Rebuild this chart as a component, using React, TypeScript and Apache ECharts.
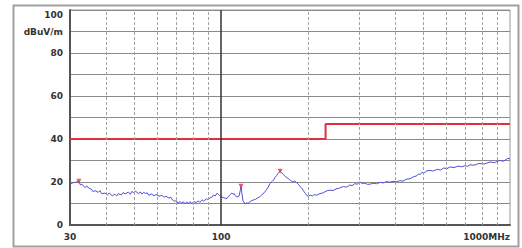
import React, { useEffect, useRef } from "react";
import * as echarts from "echarts";

// Measured emission trace: [frequency MHz, level dBuV/m]
const traceData: [number, number][] = [
  [30, 19.0], [30.5, 19.5], [31.2, 19.8], [32.2, 20.3], [32.6, 18.6], [33.0, 19.0], [33.8, 17.4],
  [34.3, 18.2], [34.8, 17.2], [35.6, 16.6], [36.1, 15.4], [36.6, 16.0], [37.6, 15.2], [38.1, 16.0],
  [38.6, 14.6], [39.7, 14.8], [40.4, 13.9], [41.0, 14.9], [42.0, 13.6], [42.9, 14.3], [43.5, 13.5],
  [44.0, 14.6], [45.2, 14.0], [45.8, 15.1], [46.5, 14.5], [47.8, 15.3], [48.5, 14.3], [49.2, 15.7],
  [49.8, 14.9], [50.5, 15.8], [51.8, 14.6], [52.5, 15.4], [53.2, 14.4], [54.0, 15.2], [54.8, 14.6],
  [55.5, 15.0], [56.2, 13.8], [57.6, 14.5], [58.5, 13.5], [59.5, 14.2], [61.0, 13.4], [62.4, 13.8],
  [63.5, 12.9], [64.5, 13.4], [66.0, 12.5], [67.0, 12.9], [67.6, 11.9], [69.0, 11.0], [70.0, 11.4],
  [70.9, 10.1], [72.0, 10.9], [73.0, 10.2], [74.0, 10.8], [75.0, 9.8], [76.0, 10.7], [77.0, 10.1],
  [78.0, 10.8], [79.3, 10.0], [80.5, 10.9], [82.0, 10.4], [83.2, 11.2], [84.5, 10.6], [86.0, 11.6],
  [87.0, 11.1], [89.0, 12.2], [90.0, 11.8], [91.5, 12.6], [93.0, 12.9], [94.0, 13.9], [95.5, 13.5],
  [96.8, 14.8], [98.0, 14.2], [99.0, 13.6], [100.7, 13.0], [102.5, 12.6], [104.8, 12.3],
  [106.0, 13.2], [107.0, 13.9], [109.0, 14.9], [110.0, 14.3], [111.0, 14.6], [112.0, 13.6],
  [113.5, 13.0], [115.5, 13.6], [116.5, 16.0], [117.2, 18.0], [118.0, 15.0], [119.0, 11.5],
  [121.0, 9.8], [122.5, 10.3], [124.0, 10.1], [126.5, 11.0], [129.0, 11.6], [131.5, 11.9],
  [134.0, 12.7], [136.0, 13.1], [138.5, 14.1], [141.0, 15.0], [143.0, 16.1], [145.5, 17.6],
  [147.6, 19.3], [150.5, 20.4], [152.0, 21.0], [153.6, 22.0], [155.5, 22.9], [157.0, 23.8],
  [160.0, 25.0], [162.0, 24.4], [164.0, 23.6], [166.5, 22.7], [169.0, 22.0], [171.0, 21.5],
  [173.0, 21.0], [175.0, 20.5], [177.0, 20.2], [180.0, 20.4], [183.0, 19.6], [185.0, 19.0],
  [187.0, 18.2], [189.5, 17.3], [192.0, 16.3], [194.0, 15.4], [196.0, 14.6], [198.0, 13.8],
  [200.0, 13.3], [203.5, 13.9], [207.0, 13.5], [210.0, 14.1], [214.6, 13.9], [220.0, 14.6],
  [226.0, 15.0], [232.0, 15.9], [238.0, 16.2], [244.0, 16.0], [250.0, 16.8], [257.0, 17.2],
  [265.0, 17.9], [272.0, 17.6], [279.0, 18.6], [284.0, 18.3], [290.0, 19.2], [296.0, 19.0],
  [302.0, 20.0], [308.0, 19.3], [315.0, 19.5], [321.0, 18.9], [328.0, 19.0], [336.0, 19.4],
  [345.0, 19.2], [355.0, 19.8], [365.0, 19.6], [374.0, 20.2], [384.0, 19.9], [394.0, 20.3],
  [405.0, 20.1], [415.0, 20.6], [426.0, 20.4], [438.0, 21.3], [450.0, 21.5], [463.0, 22.4],
  [476.0, 22.9], [482.0, 23.8], [488.0, 23.5], [496.0, 24.4], [505.0, 24.3], [516.0, 25.2],
  [528.0, 25.4], [543.0, 25.1], [560.0, 25.9], [575.0, 25.6], [590.0, 26.5], [605.0, 26.2],
  [620.0, 27.0], [640.0, 26.7], [660.0, 27.4], [680.0, 27.1], [700.0, 27.6], [713.0, 27.3],
  [727.0, 28.0], [750.0, 27.8], [780.0, 28.6], [815.0, 28.4], [852.0, 29.3], [885.0, 29.0],
  [920.0, 30.0], [950.0, 29.7], [983.0, 31.0], [1000.0, 30.7],
];

// Limit line (class B)
const limitData: [number, number][] = [
  [30, 40], [230, 40], [230, 47], [1000, 47],
];

// Peak markers
const peakData: [number, number][] = [
  [32.2, 20.3], [117.2, 18.0], [160.0, 25.0],
];

// Grid frequencies
const minorFreqs: number[] = [40, 50, 60, 70, 80, 90, 200, 300, 400, 500, 600, 700, 800, 900];
const majorFreqs: number[] = [100];
const xLabelValues: number[] = [30, 100, 1000];

const FONT = "DejaVu Sans";

export default function App() {
  const ref = useRef<HTMLDivElement>(null);
  useEffect(() => {
    if (!ref.current) return;
    const chart = echarts.init(ref.current, undefined, { renderer: "svg" });
    const gridLines: any[] = [
      ...minorFreqs.map((f) => ({
        xAxis: f,
        lineStyle: { color: "#a0a0a0", width: 1, type: [3, 2] },
      })),
      ...majorFreqs.map((f) => ({
        xAxis: f,
        lineStyle: { color: "#333", width: 1.5, type: "solid" },
      })),
    ];
    chart.setOption({
      animation: false,
      backgroundColor: "#fff",
      graphic: [
        {
          type: "rect",
          left: 11,
          top: 3,
          shape: { width: 505, height: 241 },
          style: { fill: "none", stroke: "#a0a0a0", lineWidth: 2 },
          z: -10,
        },
      ],
      grid: {
        left: 70,
        right: 12,
        top: 10,
        bottom: 23,
        show: true,
        borderColor: "#999",
        borderWidth: 1,
        backgroundColor: "#fff",
      },
      xAxis: {
        type: "log",
        logBase: 10,
        min: 30,
        max: 1000,
        axisLine: { show: true, lineStyle: { color: "#555", width: 2 } },
        axisTick: { show: false },
        splitLine: { show: false },
        axisLabel: {
          customValues: xLabelValues,
          fontFamily: FONT,
          fontSize: 9,
          fontWeight: "bold",
          color: "#333",
          margin: 7,
          alignMaxLabel: "right",
          formatter: (v: number) => (v >= 1000 ? "1000MHz" : String(Math.round(v))),
        },
      },
      yAxis: {
        type: "value",
        min: 0,
        max: 100,
        interval: 10,
        axisLine: { show: true, lineStyle: { color: "#555", width: 2 } },
        axisTick: { show: false },
        splitLine: { show: true, lineStyle: { color: "#8a8a8a", width: 1 } },
        axisLabel: {
          fontFamily: FONT,
          fontSize: 9,
          fontWeight: "bold",
          color: "#333",
          margin: 7,
          verticalAlignMaxLabel: "top",
          formatter: (v: number) => {
            if (v === 90) return "dBuV/m";
            if (v % 20 === 0) return String(v);
            return "";
          },
        },
      },
      series: [
        {
          type: "line",
          data: [],
          silent: true,
          z: 1,
          markLine: {
            silent: true,
            symbol: "none",
            label: { show: false },
            animation: false,
            data: gridLines,
          },
        },
        {
          type: "line",
          data: limitData,
          showSymbol: false,
          z: 3,
          lineStyle: { color: "#e03040", width: 2 },
        },
        {
          type: "line",
          data: traceData,
          showSymbol: false,
          z: 4,
          lineStyle: { color: "#5050d8", width: 1 },
        },
        {
          type: "scatter",
          data: peakData,
          symbol: "triangle",
          symbolRotate: 180,
          symbolSize: 5,
          z: 5,
          itemStyle: { color: "#e03040" },
        },
      ],
    });
    return () => chart.dispose();
  }, []);
  return (
    <div
      ref={ref}
      style={{ position: "absolute", left: 0, top: 0, width: 522, height: 248 }}
    />
  );
}
